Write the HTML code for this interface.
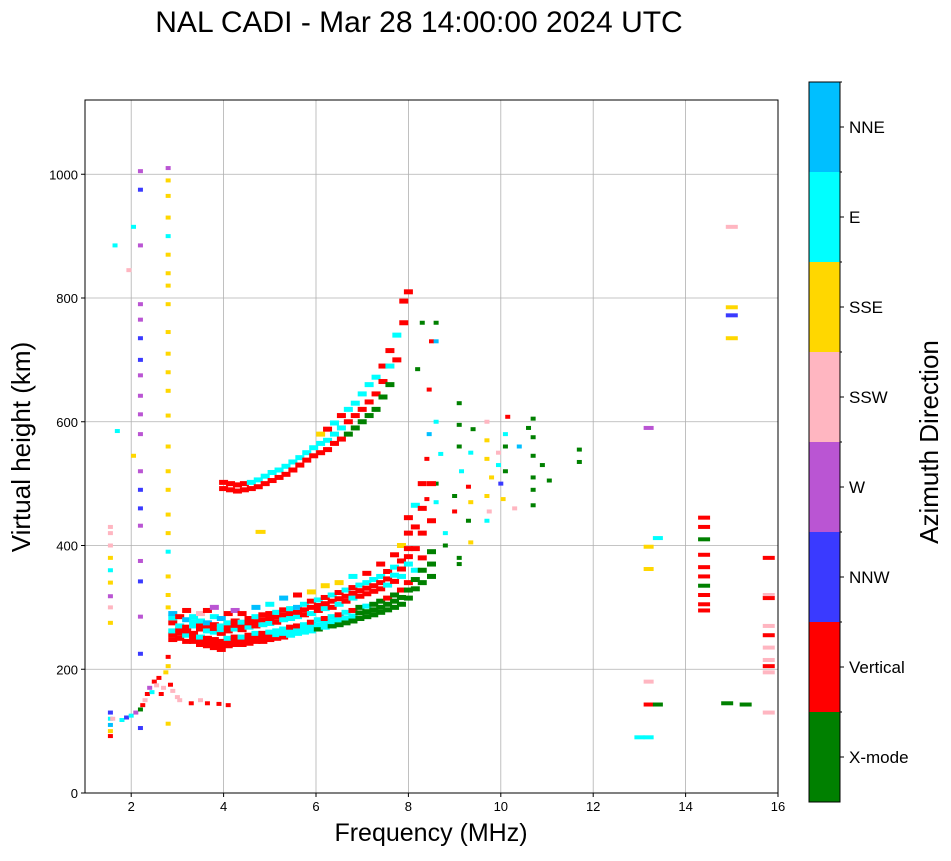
<!DOCTYPE html>
<html><head><meta charset="utf-8"><style>
body{margin:0;background:#fff;font-family:"Liberation Sans",sans-serif}
svg text{font-family:"Liberation Sans","DejaVu Sans",sans-serif}
</style></head><body>
<svg id="chart" width="951" height="856" xmlns="http://www.w3.org/2000/svg">
<text x="419" y="32" font-size="30" text-anchor="middle">NAL CADI - Mar 28 14:00:00 2024 UTC</text>
<g id="grid"></g>
<g id="marks"></g>
<rect x="85" y="100" width="693" height="693" fill="none" stroke="#000" stroke-width="1"/>
<g id="axes"></g>
<text x="431" y="841" font-size="25" text-anchor="middle">Frequency (MHz)</text>
<text transform="translate(30,447) rotate(-90)" font-size="26" text-anchor="middle">Virtual height (km)</text>
<g id="cbar"></g>
<text transform="translate(938,442) rotate(-90)" font-size="26" text-anchor="middle">Azimuth Direction</text>
</svg>
<script>
const categories=["X-mode","Vertical","NNW","W","SSW","SSE","E","NNE"];
const catColors=["#008000","#ff0000","#3a3aff","#ba55d3","#ffb6c1","#ffd700","#00ffff","#00bfff"];
const xTicks=[2,4,6,8,10,12,14,16];
const yTicks=[0,200,400,600,800,1000];
// [freq MHz, virtual height km, azimuth category]
const lowTrace=[[1.55,92,1],[1.55,100,5],[1.55,110,7],[1.55,120,6],[1.55,130,2],[1.6,120,4],[1.8,118,6],[1.9,122,2],[2.0,125,6],[2.1,130,3],[2.2,135,0],[2.25,142,1],[2.3,150,4],[2.35,160,1],[2.4,170,3],[2.45,163,6],[2.5,180,1],[2.55,174,4],[2.6,186,1],[2.65,160,1],[2.7,170,4],[2.75,195,5],[2.85,175,1],[2.9,165,4],[3.0,155,4],[3.05,150,4],[3.3,145,1],[3.5,150,4],[3.65,145,1],[3.9,144,1],[4.1,142,1],[2.2,105,2]];
const lowColumn=[[1.55,275,5],[1.55,300,4],[1.55,318,3],[1.55,340,5],[1.55,360,6],[1.55,380,5],[1.55,400,4],[1.55,420,4],[1.55,430,4],[1.7,585,6],[1.65,885,6],[2.05,915,6],[1.95,845,4],[2.05,545,5]];
const column22=[[2.2,1005,3],[2.2,975,2],[2.2,885,3],[2.2,790,3],[2.2,765,3],[2.2,735,2],[2.2,700,2],[2.2,675,3],[2.2,642,3],[2.2,612,3],[2.2,580,3],[2.2,520,3],[2.2,490,2],[2.2,460,2],[2.2,432,3],[2.2,375,3],[2.2,342,2],[2.2,285,3],[2.2,225,2]];
const column28=[[2.8,1010,3],[2.8,990,5],[2.8,965,5],[2.8,930,5],[2.8,900,6],[2.8,870,5],[2.8,840,5],[2.8,820,5],[2.8,790,5],[2.8,745,5],[2.8,710,5],[2.8,680,5],[2.8,650,5],[2.8,610,5],[2.8,560,5],[2.8,520,5],[2.8,490,5],[2.8,450,5],[2.8,420,5],[2.8,390,6],[2.8,350,5],[2.8,320,5],[2.8,300,5],[2.8,220,1],[2.8,205,5],[2.8,112,5]];
// rows: [freq, heights[], categories[]]
const fTraceRows=[
[2.9,[248,256,262,275,283,290],[1,1,6,1,6,7]],[3.05,[250,258,265,270,285],[1,1,1,6,1]],[3.2,[245,255,262,268,280,295],[1,6,1,1,7,1]],
[3.35,[245,252,258,270,277,285],[1,1,1,6,6,6]],[3.5,[240,246,252,265,270,278,290],[1,1,6,1,1,6,4]],[3.65,[238,244,250,262,270,275,295],[1,1,1,6,1,7,1]],
[3.8,[235,241,248,260,266,272,285,300],[1,1,1,6,1,1,6,3]],[3.95,[232,238,245,258,264,270,282],[1,1,1,1,6,6,7]],[4.1,[238,244,250,262,268,275,290],[1,1,6,1,1,6,1]],
[4.25,[240,246,252,265,271,278,295],[1,1,1,6,1,1,3]],[4.4,[240,246,252,264,270,276,290],[1,1,6,1,1,6,1]],[4.55,[242,248,255,268,275,282],[1,1,1,6,1,1]],
[4.7,[245,252,258,270,277,285,300],[1,1,6,1,1,6,7]],[4.85,[245,252,258,272,280,288],[1,1,1,6,1,1]],[5.0,[248,254,260,274,282,290,305],[1,1,6,6,1,1,6]],
[5.15,[250,256,262,276,284,292],[1,6,6,1,1,6]],[5.3,[252,258,265,280,288,296,315],[1,6,6,6,1,1,7]],[5.45,[255,262,268,282,290,298],[6,6,1,6,1,6]],
[5.6,[258,264,270,285,292,300,320],[6,6,1,6,1,7,1]],[5.75,[260,266,272,288,296,305],[6,6,6,1,1,6]],[5.9,[262,269,276,290,300,310,325],[6,6,1,6,1,1,5]],
[6.05,[265,272,280,295,303,312],[0,6,6,1,1,6]],[6.2,[268,275,282,298,306,316,335],[6,6,1,6,1,1,5]],[6.35,[270,277,285,300,310,320],[0,6,6,1,1,6]],
[6.5,[272,280,288,305,314,324,340],[0,6,1,6,1,1,5]],[6.65,[275,283,292,310,318,328],[0,6,6,1,1,6]],[6.8,[278,286,295,315,323,332,350],[0,6,1,6,1,1,6]],
[6.95,[282,291,300,318,327,336],[0,0,0,1,1,6]],[7.1,[285,293,302,322,331,340,355],[0,0,6,1,1,6,1]],[7.25,[288,296,305,326,335,345],[0,0,0,1,1,6]],
[7.4,[292,300,310,330,340,350,370],[0,0,0,1,1,6,1]],[7.55,[296,305,315,336,346,358],[0,0,1,6,1,1]],[7.7,[300,310,320,342,352,365,385],[0,0,0,1,6,6,1]],
[7.85,[305,316,328,350,362,375,400],[0,0,1,6,1,1,5]],[8.0,[315,328,340,370,382,395,420,445],[0,0,1,6,1,1,1,1]],[8.15,[330,345,360,395,430,465],[0,0,6,1,1,6]],
[8.3,[340,360,380,420,460,500],[0,0,1,1,1,1]],[8.5,[350,370,390,440,500],[0,0,0,1,1]]];
const upperRows=[
[4.0,[492,502],[1,1]],[4.15,[490,500],[1,1]],[4.3,[488,498],[1,1]],[4.45,[490,500],[1,1]],[4.6,[492,502],[1,6]],
[4.75,[495,506],[1,6]],[4.9,[500,512],[1,6]],[5.05,[505,518],[1,6]],[5.2,[510,522],[1,6]],[5.35,[515,528],[1,6]],
[5.5,[522,535],[1,6]],[5.65,[530,542],[1,6]],[5.8,[538,550],[1,6]],[5.95,[545,558],[1,6]],[6.1,[550,565,580],[1,6,5]],
[6.25,[555,570,588],[1,6,1]],[6.4,[565,580,598],[1,6,6]],[6.55,[572,590,610],[1,6,1]],[6.7,[580,600,620],[0,1,6]],
[6.85,[590,610,630],[0,1,6]],[7.0,[600,620,645],[0,1,6]],[7.15,[610,632,660],[0,1,6]],[7.3,[620,645,672],[0,1,6]],
[7.45,[640,665,690],[0,1,1]],[7.6,[660,690,715],[0,6,1]],[7.75,[700,740],[1,6]],[7.9,[760,795],[1,1]],[8.0,[810],[1]]];
const scatter=[[8.3,760,0],[8.5,730,1],[8.6,760,0],[8.6,730,7],[8.2,685,0],[8.45,652,1],[8.6,600,6],[8.45,580,7],[8.4,540,1],[8.7,548,6],
[9.1,630,0],[9.1,595,0],[9.1,560,0],[9.15,520,6],[9.0,480,0],[9.0,455,1],[9.4,588,0],[9.35,550,6],[9.3,495,1],[9.35,470,5],[9.3,440,0],[9.35,405,5],
[9.7,600,4],[9.7,570,5],[9.7,540,5],[9.8,510,5],[9.7,480,5],[9.75,455,4],[9.7,440,6],[9.95,550,4],[9.95,530,6],[10.0,500,2],[10.05,475,5],
[10.15,608,1],[10.1,580,6],[10.1,560,0],[10.1,520,0],[10.4,560,7],[10.3,460,4],[10.6,590,0],[10.7,605,0],[10.7,575,0],[10.7,545,0],[10.7,510,0],[10.7,490,0],[10.7,465,0],
[10.9,530,0],[11.05,505,0],[11.7,555,0],[11.7,535,0],[8.6,500,0],[8.8,400,0],[9.1,380,0],[9.1,370,0],[8.8,420,6],[8.6,470,6],[8.4,475,1]];
const rightSide=[[14.4,445,1],[14.4,430,1],[14.4,410,0],[14.4,385,1],[14.4,365,1],[14.4,350,1],[14.4,335,0],[14.4,320,1],[14.4,305,1],[14.4,295,1],
[15.8,380,1],[15.8,320,4],[15.8,315,1],[15.8,270,4],[15.8,255,1],[15.8,235,4],[15.8,215,4],[15.8,205,1],[15.8,195,4],[15.8,130,4],
[15.0,915,4],[15.0,785,5],[15.0,772,2],[15.0,735,5],[13.2,590,3],[13.4,412,6],[13.2,398,5],[13.2,362,5],[13.2,180,4],[13.2,143,1],[13.4,143,0],[13.0,90,6],[13.2,90,6],[14.9,145,0],[15.3,143,0],[4.8,422,5]];
const NS="http://www.w3.org/2000/svg";
const X0=85,X1=778,Y0=793,Y1=100;
const xScale=f=>X0+(f-1)/15*(X1-X0);
const yScale=h=>Y0-h/1120*(Y0-Y1);
function mk(tag,attrs,parent){const e=document.createElementNS(NS,tag);for(const k in attrs)e.setAttribute(k,attrs[k]);parent.appendChild(e);return e;}
const grid=document.getElementById('grid'),axes=document.getElementById('axes'),marks=document.getElementById('marks'),cbar=document.getElementById('cbar');
xTicks.forEach(t=>{const x=xScale(t);
 const g=mk('line',{x1:x,x2:x,y1:Y1,y2:Y0,stroke:'#b0b0b0','stroke-width':0.8},grid);
 
 
 mk('line',{x1:x,x2:x,y1:Y0,y2:Y0+4,stroke:'#000'},axes);
 const tx=mk('text',{x:x,y:Y0+18,'font-size':13,'text-anchor':'middle'},axes);tx.textContent=t;
 
 });
yTicks.forEach(t=>{const y=yScale(t);
 const g=mk('line',{x1:X0,x2:X1,y1:y,y2:y,stroke:'#b0b0b0','stroke-width':0.8},grid);
 
 
 mk('line',{x1:X0-4,x2:X0,y1:y,y2:y,stroke:'#000'},axes);
 const tx=mk('text',{x:X0-7,y:y+5,'font-size':13,'text-anchor':'end'},axes);tx.textContent=t;
 
 });
function mark(f,h,c,w,hh){const r=mk('rect',{x:xScale(f)-w/2,y:yScale(h)-hh/2,width:w,height:hh,fill:catColors[c]},marks);
 
 }
[lowTrace,lowColumn,column22,column28,scatter].forEach(a=>a.forEach(p=>mark(p[0],p[1],p[2],5,4)));
rightSide.forEach(p=>mark(p[0],p[1],p[2],p[0]>=14?12:10,4));
[fTraceRows,upperRows].forEach(rows=>rows.forEach(r=>r[1].forEach((h,i)=>mark(r[0],h,r[2][i],9,5))));
const CB_X=809,CB_Y=82,CB_H=720,CB_W=31,seg=CB_H/categories.length;
categories.forEach((c,i)=>{const y=CB_Y+CB_H-(i+1)*seg;
 const r=mk('rect',{x:CB_X,y:y,width:CB_W,height:seg,fill:catColors[i]},cbar);
 
 
 mk('line',{x1:CB_X+CB_W,x2:CB_X+CB_W+4,y1:y+seg/2,y2:y+seg/2,stroke:'#000'},cbar);
 mk('line',{x1:CB_X+CB_W,x2:CB_X+CB_W+2,y1:y,y2:y,stroke:'#000'},cbar);
 const t=mk('text',{x:CB_X+CB_W+9,y:y+seg/2+6,'font-size':17},cbar);t.textContent=c;
 
 });
mk('rect',{x:CB_X,y:CB_Y,width:CB_W,height:CB_H,fill:'none',stroke:'#000'},cbar);
</script>
</body></html>
